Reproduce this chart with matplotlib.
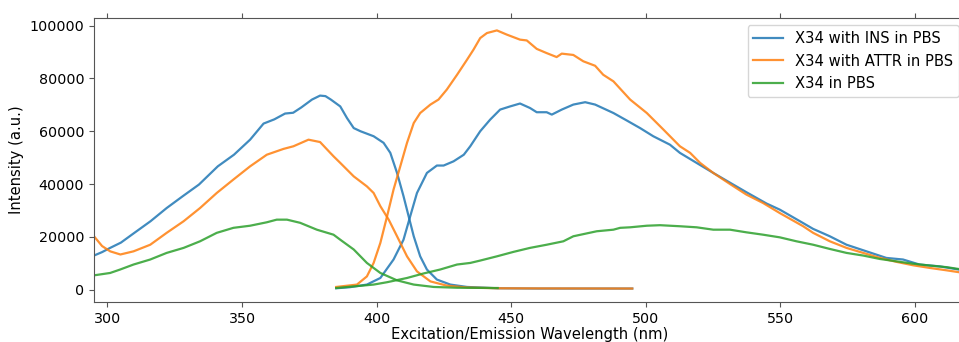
import numpy as np
import matplotlib.pyplot as plt

# ---- data (wavelength nm, intensity a.u.) ----
# excitation scans
ins_ex_x = [295, 298, 301, 305, 310, 316, 322, 328, 334, 341, 347, 353, 358, 362,
            366, 369, 372, 376, 379, 381, 383, 386.5, 389, 391.5, 394, 398.9, 402.6,
            405.1, 407.6, 410, 411.9, 413.8, 416.2, 418.7, 422.4, 427.4, 433.6, 445,
            460, 495]
ins_ex_y = [12900, 14200, 15800, 17800, 21500, 25900, 30900, 35400, 39800, 46700,
            51100, 56800, 62900, 64500, 66700, 67000, 69000, 72000, 73500, 73300,
            72000, 69400, 65000, 61200, 60000, 58100, 55600, 51800, 44200, 35400,
            27800, 20200, 12600, 7600, 3800, 1900, 1000, 500, 400, 400]

attr_ex_x = [295, 298, 301, 304.8, 309.7, 315.9, 322, 328.3, 334.4, 340.6, 346.8,
             353, 359.2, 365.4, 369.1, 374.7, 379, 384, 386.5, 391.5, 396.4, 398.9,
             401.4, 404.5, 407.6, 411.3, 415, 420, 426.1, 433.6, 445, 460, 495]
attr_ex_y = [20200, 16500, 14500, 13300, 14500, 17000, 21500, 25900, 30900, 36600,
             41700, 46700, 51100, 53300, 54300, 56800, 55900, 50500, 48000, 42900,
             39100, 36600, 31600, 26500, 20200, 12600, 6900, 3100, 1500, 800, 500,
             450, 400]

pbs_ex_x = [295, 301, 304.7, 309.7, 315.9, 322, 328.3, 334.4, 340.6, 346.8, 353,
            359.2, 362.9, 366.7, 371.6, 377.8, 384, 386.5, 391.5, 396.4, 401.4,
            407.6, 413.8, 421.2, 430, 445]
pbs_ex_y = [5400, 6300, 7600, 9500, 11400, 13900, 15800, 18300, 21500, 23400, 24200,
            25500, 26500, 26500, 25300, 22700, 20800, 18900, 15200, 10100, 6300,
            3500, 1900, 1000, 700, 600]

# emission scans
ins_em_x = [385, 390, 396.4, 401.4, 406.3, 410, 412.5, 415, 418.7, 422.4, 424.9,
            428.6, 432.4, 434.8, 438.5, 442.2, 445.9, 449.6, 453.3, 457, 459.5,
            463.2, 465.1, 468.8, 473.1, 477.5, 481.2, 488, 492.9, 497.9, 502.8, 509,
            512.7, 518.9, 525.1, 532.5, 537.4, 544.9, 549.8, 557.3, 562.2, 568.4,
            574.6, 582, 589.4, 595.6, 601.7, 609.2, 616.3, 620]
ins_em_y = [500, 900, 1900, 4400, 11400, 18900, 27800, 36600, 44200, 47000, 47000,
            48600, 51100, 54300, 60000, 64400, 68200, 69400, 70500, 68800, 67200,
            67200, 66300, 68200, 70100, 71000, 70100, 66900, 64100, 61200, 58100,
            54900, 51800, 48000, 44200, 39800, 36900, 32600, 30300, 25900, 23000,
            20200, 17000, 14500, 12000, 11400, 9500, 8800, 7600, 7300]

attr_em_x = [385, 392.7, 396.4, 398.9, 401.4, 403.9, 406.3, 408.8, 411.3, 413.8,
             416.2, 420, 423, 426.1, 429.9, 433.6, 436, 438.5, 441, 444.7, 448.4,
             453.3, 455.8, 459.5, 463.2, 466.9, 468.8, 473.1, 476.8, 481.2, 484.2,
             488, 494.2, 500.4, 506.6, 512.7, 516.5, 520.2, 525.1, 531.3, 537.4,
             543.6, 549.8, 558.5, 562.2, 568.4, 574.6, 580.8, 587, 593.2, 599.4,
             605.6, 611.8, 616.3, 620]
attr_em_y = [1000, 1900, 5000, 10100, 17700, 27800, 37900, 46700, 55600, 63100,
             66900, 70100, 72000, 75800, 81400, 87100, 90900, 95300, 97200, 98200,
             96600, 94700, 94400, 91200, 89600, 88100, 89400, 88900, 86500, 84800,
             81400, 78900, 72000, 66900, 60600, 54300, 51800, 48000, 44200, 40000,
             36000, 32800, 29000, 24000, 21500, 18300, 15800, 13900, 12000, 10500,
             9200, 8200, 7300, 6600, 6300]

pbs_em_x = [385, 398.9, 403.9, 411.3, 417.4, 423.6, 429.9, 434.8, 438.5, 444.7,
            450.9, 457, 463.2, 469.4, 473.1, 481.8, 488, 490.5, 494.2, 500.4, 505.3,
            512.7, 518.9, 525.1, 531.3, 537.4, 543.6, 549.8, 556, 562.2, 568.4,
            574.6, 580.8, 587, 593.2, 599.4, 605.6, 611.8, 616.3, 620]
pbs_em_y = [600, 1900, 2800, 4400, 6100, 7600, 9500, 10100, 11000, 12600, 14300,
            15800, 17000, 18300, 20200, 22100, 22700, 23400, 23600, 24200, 24400,
            24000, 23600, 22700, 22700, 21700, 20800, 19800, 18300, 17000, 15400,
            13900, 12900, 11600, 10700, 9800, 9100, 8500, 7800, 7500]

labels = ['X34 with INS in PBS', 'X34 with ATTR in PBS', 'X34 in PBS']
colors = ['#1f77b4', '#ff7f0e', '#2ca02c']
fs = 10.6

fig = plt.figure(figsize=(9.59, 3.42), dpi=100)
ax = fig.add_axes([94 / 959, 40 / 342, 872 / 959, 284 / 342])

series = [(ins_ex_x, ins_ex_y, ins_em_x, ins_em_y),
          (attr_ex_x, attr_ex_y, attr_em_x, attr_em_y),
          (pbs_ex_x, pbs_ex_y, pbs_em_x, pbs_em_y)]
for (ex_x, ex_y, em_x, em_y), lab, c in zip(series, labels, colors):
    ax.plot(ex_x, ex_y, color=c, lw=1.6, alpha=0.85, label=lab)
    ax.plot(em_x, em_y, color=c, lw=1.6, alpha=0.85)

ax.set_xlim(295, 619)
ax.set_ylim(-4700, 102900)
ax.set_xticks([300, 350, 400, 450, 500, 550, 600])
ax.set_yticks(np.arange(0, 100001, 20000))
ax.tick_params(labelsize=10.3, top=True, color='#555555')
for s in ax.spines.values():
    s.set_color('#555555')

# labelpad trimmed so the label stays inside the 342 px canvas
ax.set_xlabel('Excitation/Emission Wavelength (nm)', fontsize=fs, labelpad=1)
ax.set_ylabel('Intensity (a.u.)', fontsize=fs)

ax.legend(loc='upper right', fontsize=fs, borderaxespad=0.5)

fig.savefig('out.png', dpi=100)
